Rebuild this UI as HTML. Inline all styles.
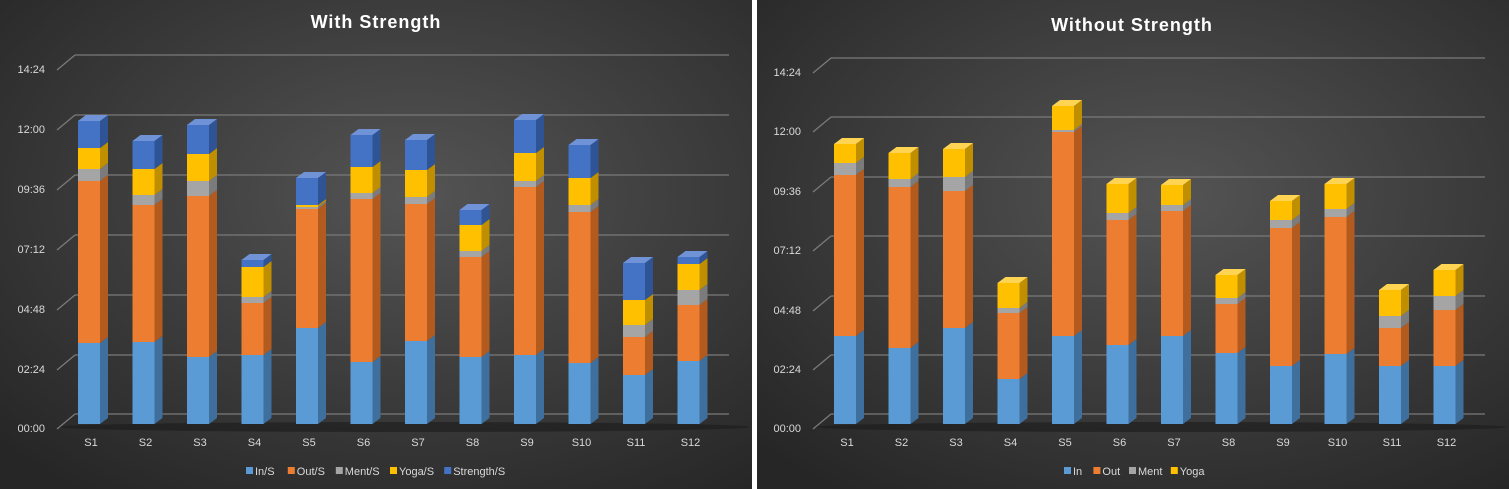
<!DOCTYPE html>
<html><head><style>
html,body{margin:0;padding:0;background:#fff;}
svg{display:block;font-family:"Liberation Sans",sans-serif;}
</style></head><body>
<svg id="s" width="1509" height="489" xmlns="http://www.w3.org/2000/svg">
<defs>
<radialGradient id="bg" cx="0.55" cy="0.4" r="0.75">
<stop offset="0" stop-color="#545454"/><stop offset="1" stop-color="#262626"/>
</radialGradient>
</defs>
<rect x="0" y="0" width="752" height="489" fill="url(#bg)"/>
<rect x="752" y="0" width="5" height="489" fill="#fff"/>
<rect x="757" y="0" width="752" height="489" fill="url(#bg)"/>
<g id="g"></g>
</svg>
<script>
const g=document.getElementById('g');let h='';
const cols=[['#5b9bd5','#3f6f9c','#8bbbe6'],['#ed7d31','#b35a1e','#f4a26c'],['#a5a5a5','#7b7b7b','#c8c8c8'],['#ffc000','#c08f00','#ffd452'],['#4472c4','#2f5496','#6f93d6']];
function chart(ox,x0,gl,backY,title,tx,ty,legend,data,ncol){
  backY.forEach((y,i)=>{
    h+=`<line x1="${gl}" y1="${y}" x2="${gl+654}" y2="${y}" stroke="#7a7a7a" stroke-width="1.3"/>`;
    h+=`<line x1="${gl-18}" y1="${y+15}" x2="${gl}" y2="${y}" stroke="#7a7a7a" stroke-width="1.3"/>`;
    const lab=['14:24','12:00','09:36','07:12','04:48','02:24','00:00'][i];
    h+=`<text x="${gl-30}" y="${y+18}" fill="#d9d9d9" font-size="11" text-anchor="end">${lab}</text>`;
  });
  h+=`<ellipse cx="${gl+330}" cy="427" rx="345" ry="5" fill="#1a1a1a" opacity="0.6"/>`;
  h+=`<text x="${tx}" y="${ty}" fill="#fff" font-size="18" font-weight="bold" text-anchor="middle" letter-spacing="1">${title}</text>`;
  data.forEach((b,i)=>{
    const x=x0+54.5*i;const ys=[424].concat(b.slice().reverse());
    // ys: bottom, then boundaries upward
    for(let k=0;k<ys.length-1;k++){
      const y1=ys[k],y2=ys[k+1];if(y1-y2<=0)continue;const c=cols[k];
      h+=`<rect x="${x}" y="${y2}" width="22" height="${y1-y2}" fill="${c[0]}"/>`;
      h+=`<polygon points="${x+22},${y1} ${x+30},${y1-6} ${x+30},${y2-6} ${x+22},${y2}" fill="${c[1]}"/>`;
    }
    const top=ys[ys.length-1];const c=cols[ys.length-2];
    h+=`<polygon points="${x},${top} ${x+8},${top-6} ${x+30},${top-6} ${x+22},${top}" fill="${c[2]}"/>`;
    h+=`<text x="${x+13}" y="446" fill="#d9d9d9" font-size="11" text-anchor="middle">S${i+1}</text>`;
  });
  // legend
  let lx=legend.x;
  legend.items.forEach((t,k)=>{
    h+=`<rect x="${lx}" y="467" width="7" height="7" fill="${cols[k][0]}"/>`;
    h+=`<text x="${lx+9}" y="475" fill="#d9d9d9" font-size="11">${t}</text>`;
    lx+=9+t.length*6.2+8;
  });
}
const L=[[121,148,169,181,343],[141,169,195,205,342],[125,154,181,196,357],[260,267,297,303,355],[178,205,207,209,328],[135,167,193,199,362],[140,170,197,204,341],[210,225,251,257,357],[120,153,181,187,355],[145,178,205,212,363],[263,300,325,337,375],[257,264,290,305,361]];
const R=[[144,163,175,336],[153,179,187,348],[149,177,191,328],[283,308,313,379],[106,130,132,336],[184,213,220,345],[185,205,211,336],[275,298,304,353],[201,220,228,366],[184,209,217,354],[290,316,328,366],[270,296,310,366]];
chart(0,78,75,[55,115,175,235,295,355,414],'With Strength',376,28,{x:246,items:['In/S','Out/S','Ment/S','Yoga/S','Strength/S']},L);
chart(757,834,831,[58,117,177,236,296,355,414],'Without Strength',1132,31,{x:1064,items:['In','Out','Ment','Yoga']},R);
g.innerHTML=h;
</script>
</body></html>
